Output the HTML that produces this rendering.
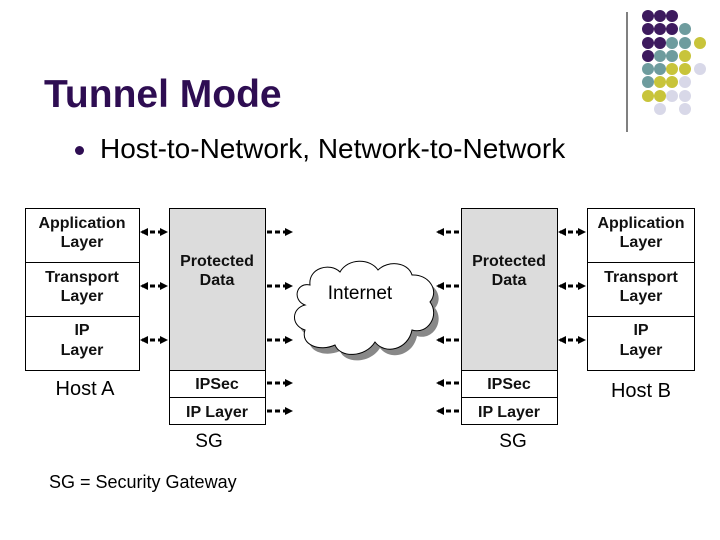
<!DOCTYPE html><html><head><style>
body{margin:0;width:720px;height:540px;background:#fff;overflow:hidden;font-family:"Liberation Sans",Arial,sans-serif;position:relative}
.t{position:absolute;white-space:nowrap}
</style></head><body>
<div class="t" style="left:44px;top:73px;font-size:39px;font-weight:bold;color:#2e0d52">Tunnel Mode</div>
<div class="t" style="left:75px;top:146px;width:9px;height:9px;border-radius:50%;background:#2e0d52"></div>
<div class="t" style="left:100px;top:133px;font-size:28px">Host-to-Network, Network-to-Network</div>
<svg width="720" height="540" style="position:absolute;left:0;top:0" font-family="Liberation Sans, Arial, sans-serif">
<defs>
<marker id="ah" markerWidth="8" markerHeight="8" refX="6" refY="4" orient="auto" markerUnits="userSpaceOnUse"><path d="M0,0L8,4L0,8z" fill="#000"/></marker>
<marker id="as" markerWidth="8" markerHeight="8" refX="2" refY="4" orient="auto" markerUnits="userSpaceOnUse"><path d="M8,0L0,4L8,8z" fill="#000"/></marker>
</defs>
<line x1="627" y1="12" x2="627" y2="132" stroke="#000"/>
<g id="dots">
<circle cx="648" cy="16" r="6" fill="#3d1a5e"/><circle cx="660" cy="16" r="6" fill="#3d1a5e"/><circle cx="672" cy="16" r="6" fill="#3d1a5e"/>
<circle cx="648" cy="29" r="6" fill="#3d1a5e"/><circle cx="660" cy="29" r="6" fill="#3d1a5e"/><circle cx="672" cy="29" r="6" fill="#3d1a5e"/><circle cx="685" cy="29" r="6" fill="#6e9c9e"/>
<circle cx="648" cy="43" r="6" fill="#3d1a5e"/><circle cx="660" cy="43" r="6" fill="#3d1a5e"/><circle cx="672" cy="43" r="6" fill="#6e9c9e"/><circle cx="685" cy="43" r="6" fill="#6e9c9e"/><circle cx="700" cy="43" r="6" fill="#c8c43a"/>
<circle cx="648" cy="56" r="6" fill="#3d1a5e"/><circle cx="660" cy="56" r="6" fill="#6e9c9e"/><circle cx="672" cy="56" r="6" fill="#6e9c9e"/><circle cx="685" cy="56" r="6" fill="#c8c43a"/>
<circle cx="648" cy="69" r="6" fill="#6e9c9e"/><circle cx="660" cy="69" r="6" fill="#6e9c9e"/><circle cx="672" cy="69" r="6" fill="#c8c43a"/><circle cx="685" cy="69" r="6" fill="#c8c43a"/><circle cx="700" cy="69" r="6" fill="#d8d8e8"/>
<circle cx="648" cy="82" r="6" fill="#6e9c9e"/><circle cx="660" cy="82" r="6" fill="#c8c43a"/><circle cx="672" cy="82" r="6" fill="#c8c43a"/><circle cx="685" cy="82" r="6" fill="#d8d8e8"/>
<circle cx="648" cy="96" r="6" fill="#c8c43a"/><circle cx="660" cy="96" r="6" fill="#c8c43a"/><circle cx="672" cy="96" r="6" fill="#d8d8e8"/><circle cx="685" cy="96" r="6" fill="#d8d8e8"/>
<circle cx="660" cy="109" r="6" fill="#d8d8e8"/><circle cx="685" cy="109" r="6" fill="#d8d8e8"/>
</g>
<g stroke="#000" fill="#fff" stroke-width="1">
<rect x="25.5" y="208.5" width="114" height="162"/>
<line x1="25" y1="262.5" x2="139" y2="262.5"/><line x1="25" y1="316.5" x2="139" y2="316.5"/>
<rect x="169.5" y="208.5" width="96" height="162" fill="#dcdcdc"/>
<rect x="169.5" y="370.5" width="96" height="54"/><line x1="169" y1="397.5" x2="265" y2="397.5"/>
<rect x="461.5" y="208.5" width="96" height="162" fill="#dcdcdc"/>
<rect x="461.5" y="370.5" width="96" height="54"/><line x1="461" y1="397.5" x2="557" y2="397.5"/>
<rect x="587.5" y="208.5" width="107" height="162"/>
<line x1="587" y1="262.5" x2="694" y2="262.5"/><line x1="587" y1="316.5" x2="694" y2="316.5"/>
</g>
<g stroke="#000" stroke-width="3" stroke-dasharray="5,3" fill="none">
<line x1="142" y1="232" x2="166" y2="232" marker-start="url(#as)" marker-end="url(#ah)"/>
<line x1="142" y1="286" x2="166" y2="286" marker-start="url(#as)" marker-end="url(#ah)"/>
<line x1="142" y1="340" x2="166" y2="340" marker-start="url(#as)" marker-end="url(#ah)"/>
<line x1="560" y1="232" x2="584" y2="232" marker-start="url(#as)" marker-end="url(#ah)"/>
<line x1="560" y1="286" x2="584" y2="286" marker-start="url(#as)" marker-end="url(#ah)"/>
<line x1="560" y1="340" x2="584" y2="340" marker-start="url(#as)" marker-end="url(#ah)"/>
<line x1="267" y1="232" x2="291" y2="232" marker-end="url(#ah)"/>
<line x1="267" y1="286" x2="291" y2="286" marker-end="url(#ah)"/>
<line x1="267" y1="340" x2="291" y2="340" marker-end="url(#ah)"/>
<line x1="267" y1="383" x2="291" y2="383" marker-end="url(#ah)"/>
<line x1="267" y1="411" x2="291" y2="411" marker-end="url(#ah)"/>
<line x1="438" y1="232" x2="459" y2="232" marker-start="url(#as)"/>
<line x1="438" y1="286" x2="459" y2="286" marker-start="url(#as)"/>
<line x1="438" y1="340" x2="459" y2="340" marker-start="url(#as)"/>
<line x1="438" y1="383" x2="459" y2="383" marker-start="url(#as)"/>
<line x1="438" y1="411" x2="459" y2="411" marker-start="url(#as)"/>
</g>
<g transform="translate(5,6)" fill="#888">
<path d="M305,305 C292,300 296,282 310,285 C308,268 330,262 340,272 C348,258 370,258 378,270 C388,260 408,262 412,275 C428,274 440,290 430,302 C440,315 428,335 412,330 C408,350 385,355 375,342 C365,358 340,358 335,345 C320,352 300,345 305,330 C290,325 292,308 305,305 Z"/>
</g>
<path d="M305,305 C292,300 296,282 310,285 C308,268 330,262 340,272 C348,258 370,258 378,270 C388,260 408,262 412,275 C428,274 440,290 430,302 C440,315 428,335 412,330 C408,350 385,355 375,342 C365,358 340,358 335,345 C320,352 300,345 305,330 C290,325 292,308 305,305 Z" fill="#fff" stroke="#000"/>
<g font-size="16" text-anchor="middle" font-weight="bold" fill="#111">
<text x="82" y="228">Application</text><text x="82" y="247">Layer</text>
<text x="82" y="282">Transport</text><text x="82" y="301">Layer</text>
<text x="82" y="335">IP</text><text x="82" y="355">Layer</text>
<text x="641" y="228">Application</text><text x="641" y="247">Layer</text>
<text x="641" y="282">Transport</text><text x="641" y="301">Layer</text>
<text x="641" y="335">IP</text><text x="641" y="355">Layer</text>
<text x="217" y="266">Protected</text><text x="217" y="285">Data</text>
<text x="509" y="266">Protected</text><text x="509" y="285">Data</text>
<text x="217" y="389">IPSec</text><text x="217" y="417">IP Layer</text>
<text x="509" y="389">IPSec</text><text x="509" y="417">IP Layer</text>
</g>
<g font-size="20" text-anchor="middle">
<text x="85" y="395">Host A</text><text x="641" y="397">Host B</text>
<text x="209" y="447" font-size="19">SG</text><text x="513" y="447" font-size="19">SG</text>
<text x="360" y="299" font-size="19">Internet</text>
</g>
<text x="49" y="488" font-size="18">SG = Security Gateway</text>
</svg>
</body></html>
